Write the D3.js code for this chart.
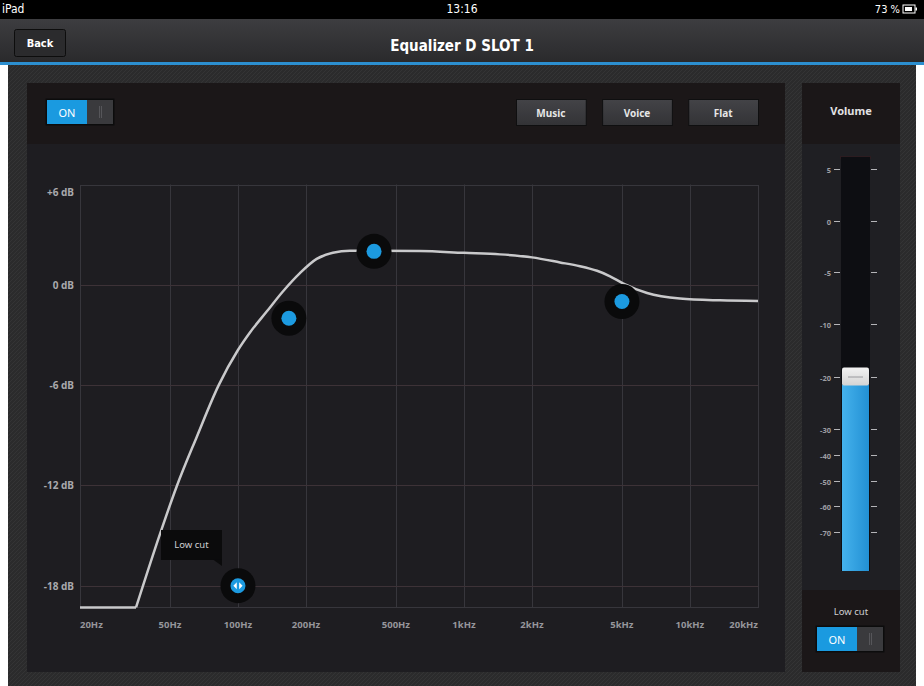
<!DOCTYPE html>
<html lang="en">
<head>
<meta charset="utf-8">
<title>Equalizer D SLOT 1</title>
<script src="https://d3js.org/d3.v7.min.js"></script>
<style>
  body { margin: 0; background: #fff; }
  svg { display: block; }
  text { font-family: "Noto Sans", "Open Sans", sans-serif; font-weight: bold; }
  .narrow { font-family: "Liberation Sans Narrow", "DejaVu Sans Condensed", "Roboto", sans-serif; }
</style>
</head>
<body>
<script>
// response curve (Hz, dB)
var curveFreq = [20, 35.4, 45.2, 53.6, 65.7, 82.2, 100, 113, 134, 158, 188, 223, 263, 313, 400, 638,
                 1000, 1444, 2000, 2660, 3260, 3600, 3880, 4430, 5050, 6460, 9030, 13580, 20000];
var curveGain = [-19.3, -19.3, -14.9, -12.05, -9.1, -6.0, -3.9, -2.85, -1.6, -0.4, 0.7, 1.55, 1.92, 2.03, 2.03, 2.02,
                 1.91, 1.82, 1.64, 1.34, 1.11, 0.97, 0.84, 0.51, 0.09, -0.49, -0.82, -0.93, -0.97];

// draggable band handles
var bandFreq = [100, 168, 400, 5000];
var bandGain = [-18, -2, 2, -1];

var freqTicks = [20, 50, 100, 200, 500, 1000, 2000, 5000, 10000, 20000];
var freqLabels = ["20Hz", "50Hz", "100Hz", "200Hz", "500Hz", "1kHz", "2kHz", "5kHz", "10kHz", "20kHz"];
var gainTicks = [6, 0, -6, -12, -18];
var gainLabels = ["+6 dB", "0 dB", "-6 dB", "-12 dB", "-18 dB"];
var presets = ["Music", "Voice", "Flat"];

var volumeTicks = [5, 0, -5, -10, -20, -30, -40, -50, -60, -70];
var volumeLevel = -20;

var W = 924, H = 686;
var svg = d3.select("body").append("svg")
    .attr("width", W)
    .attr("height", H);

var defs = svg.append("defs");

var tex = defs.append("pattern")
    .attr("id", "tex")
    .attr("width", 4).attr("height", 4)
    .attr("patternUnits", "userSpaceOnUse");
tex.append("rect").attr("width", 4).attr("height", 4).attr("fill", "#2b2b2c");
tex.append("path").attr("d", "M0,4L4,0M-1,1L1,-1M3,5L5,3").attr("stroke", "#343435").attr("stroke-width", 1);

var navGrad = defs.append("linearGradient").attr("id", "navGrad").attr("x1", 0).attr("y1", 0).attr("x2", 0).attr("y2", 1);
navGrad.append("stop").attr("offset", "0%").attr("stop-color", "#3d3d40");
navGrad.append("stop").attr("offset", "100%").attr("stop-color", "#2a2a2c");

var btnGrad = defs.append("linearGradient").attr("id", "btnGrad").attr("x1", 0).attr("y1", 0).attr("x2", 0).attr("y2", 1);
btnGrad.append("stop").attr("offset", "0%").attr("stop-color", "#434347");
btnGrad.append("stop").attr("offset", "100%").attr("stop-color", "#333336");

var blueGrad = defs.append("linearGradient").attr("id", "blueGrad").attr("x1", 0).attr("y1", 0).attr("x2", 1).attr("y2", 0);
blueGrad.append("stop").attr("offset", "0%").attr("stop-color", "#45b2ec");
blueGrad.append("stop").attr("offset", "100%").attr("stop-color", "#2290d4");

var thumbGrad = defs.append("linearGradient").attr("id", "thumbGrad").attr("x1", 0).attr("y1", 0).attr("x2", 0).attr("y2", 1);
thumbGrad.append("stop").attr("offset", "0%").attr("stop-color", "#f2f2f2");
thumbGrad.append("stop").attr("offset", "100%").attr("stop-color", "#d4d4d4");

// background
svg.append("rect").attr("x", 8).attr("y", 64).attr("width", 908).attr("height", H - 64).attr("fill", "url(#tex)");

// status bar
svg.append("rect").attr("x", 0).attr("y", 0).attr("width", W).attr("height", 19).attr("fill", "#000");
svg.append("text").attr("class", "narrow").attr("x", 2).attr("y", 13)
    .attr("fill", "#fff").attr("font-size", 12).style("font-weight", "normal").text("iPad");
svg.append("text").attr("class", "narrow").attr("x", W / 2).attr("y", 13).attr("text-anchor", "middle")
    .attr("fill", "#fff").attr("font-size", 12).style("font-weight", "normal").text("13:16");
svg.append("text").attr("class", "narrow").attr("x", 900).attr("y", 13).attr("text-anchor", "end")
    .attr("fill", "#fff").attr("font-size", 11).style("font-weight", "normal").text("73 %");
svg.append("rect").attr("x", 903).attr("y", 5).attr("width", 12).attr("height", 8).attr("fill", "none").attr("stroke", "#fff");
svg.append("rect").attr("x", 905).attr("y", 7).attr("width", 7).attr("height", 4).attr("fill", "#fff");
svg.append("rect").attr("x", 915.5).attr("y", 7.5).attr("width", 1.5).attr("height", 3).attr("fill", "#fff");

// nav bar
svg.append("rect").attr("x", 0).attr("y", 19).attr("width", W).attr("height", 43).attr("fill", "url(#navGrad)");
svg.append("rect").attr("x", 0).attr("y", 62).attr("width", W).attr("height", 3).attr("fill", "#2c8fd0");
svg.append("rect").attr("x", 14.5).attr("y", 29.5).attr("width", 51).attr("height", 27).attr("rx", 2)
    .attr("fill", "#2b2b2d").attr("stroke", "#0d0d0d");
svg.append("text").attr("class", "narrow").attr("x", 40).attr("y", 47).attr("text-anchor", "middle")
    .attr("fill", "#fff").attr("font-size", 11).text("Back");
svg.append("text").attr("class", "narrow").attr("x", 462).attr("y", 51).attr("text-anchor", "middle")
    .attr("fill", "#fff").attr("font-size", 15).text("Equalizer D SLOT 1");

// main panel
svg.append("rect").attr("x", 27).attr("y", 83).attr("width", 758).attr("height", 589).attr("fill", "#1e1d21");
svg.append("rect").attr("x", 27).attr("y", 83).attr("width", 758).attr("height", 61).attr("fill", "#1b1718");

function toggle(x, y) {
    var g = svg.append("g").attr("transform", "translate(" + x + "," + y + ")");
    g.append("rect").attr("x", -0.5).attr("y", -0.5).attr("width", 69).attr("height", 27).attr("fill", "#0c0c0c");
    g.append("rect").attr("x", 1).attr("y", 1).attr("width", 40).attr("height", 24).attr("fill", "#1a9ae0");
    g.append("rect").attr("x", 41).attr("y", 1).attr("width", 26).attr("height", 24).attr("fill", "#3a3a3d");
    g.append("path").attr("d", "M53.5,7V19M55.5,7V19").attr("stroke", "#56565a").attr("stroke-width", 1);
    g.append("text").attr("x", 21).attr("y", 17.5).attr("text-anchor", "middle")
        .attr("fill", "#fff").attr("font-size", 11).style("font-weight", "normal").text("ON");
}
toggle(46, 99);

var presetX = d3.scaleBand().domain(presets).range([516, 758]).paddingInner(0.19);
var pb = svg.selectAll(".preset").data(presets).enter().append("g").attr("class", "preset");
pb.append("rect")
    .attr("x", function(d) { return presetX(d) + 0.5; })
    .attr("y", 99.5)
    .attr("width", presetX.bandwidth())
    .attr("height", 26)
    .attr("fill", "url(#btnGrad)")
    .attr("stroke", "#0f0f10");
pb.append("text")
    .attr("x", function(d) { return presetX(d) + presetX.bandwidth() / 2; })
    .attr("y", 116.5)
    .attr("text-anchor", "middle")
    .attr("fill", "#e6e6e6")
    .attr("font-size", 10)
    .text(function(d) { return d; });

// EQ plot
var x = d3.scaleLog().domain([20, 20000]).range([80, 758]);
var y = d3.scaleLinear().domain([-18, 6]).range([585.7, 184.5]);
var plotBottom = 607;

var grid = svg.append("g");
grid.selectAll(".vg").data(freqTicks.slice(1, -1)).enter().append("line")
    .attr("x1", function(d) { return Math.round(x(d)) + 0.5; })
    .attr("x2", function(d) { return Math.round(x(d)) + 0.5; })
    .attr("y1", y(6)).attr("y2", plotBottom)
    .attr("stroke", "#37363c");
grid.selectAll(".hg").data(gainTicks.slice(1)).enter().append("line")
    .attr("x1", x(20)).attr("x2", x(20000))
    .attr("y1", function(d) { return Math.round(y(d)) + 0.5; })
    .attr("y2", function(d) { return Math.round(y(d)) + 0.5; })
    .attr("stroke", "#3d3237");
grid.append("rect")
    .attr("x", x(20) + 0.5).attr("y", Math.round(y(6)) + 0.5)
    .attr("width", x(20000) - x(20)).attr("height", plotBottom - Math.round(y(6)))
    .attr("fill", "none").attr("stroke", "#37363c");

svg.selectAll(".ylab").data(gainTicks).enter().append("text")
    .attr("x", 74)
    .attr("y", function(d, i) { return i === 0 ? y(d) + 11 : y(d) + 4; })
    .attr("text-anchor", "end")
    .attr("fill", "#a9a9ad")
    .attr("font-size", 10)
    .text(function(d, i) { return gainLabels[i]; });

svg.selectAll(".xlab").data(freqTicks).enter().append("text")
    .attr("x", function(d) { return x(d); })
    .attr("y", 628)
    .attr("text-anchor", function(d, i) { return i === 0 ? "start" : (i === freqTicks.length - 1 ? "end" : "middle"); })
    .attr("fill", "#96969b")
    .attr("font-size", 9.5)
    .text(function(d, i) { return freqLabels[i]; });

// response curve: flat floor, then the smooth part
var pts = curveFreq.map(function(f, i) { return [x(f), y(curveGain[i])]; });
svg.append("path")
    .attr("d", d3.line()(pts.slice(0, 2)))
    .attr("fill", "none").attr("stroke", "#c9c9cb").attr("stroke-width", 2.5);
svg.append("path")
    .attr("d", d3.line().curve(d3.curveMonotoneX)(pts.slice(1)))
    .attr("fill", "none").attr("stroke", "#c9c9cb").attr("stroke-width", 2.5);

// tooltip for the low cut handle
var tip = svg.append("g");
tip.append("rect").attr("x", 161).attr("y", 530).attr("width", 61).attr("height", 30).attr("fill", "#0b0b0c");
tip.append("path").attr("d", "M213,559.5L222,559.5L222,566Z").attr("fill", "#0b0b0c");
tip.append("text").attr("x", 191.5).attr("y", 548).attr("text-anchor", "middle")
    .attr("fill", "#cfcfd2").attr("font-size", 9.5).style("font-weight", "normal").text("Low cut");

var handles = svg.selectAll(".band").data(bandFreq).enter().append("g")
    .attr("class", "band")
    .attr("transform", function(d, i) { return "translate(" + x(d) + "," + y(bandGain[i]) + ")"; });
handles.append("circle").attr("r", 17.5).attr("fill", "#0a0a0b");
handles.append("circle").attr("r", 7.5).attr("fill", "#1c9ae0");
handles.filter(function(d, i) { return i === 0; }).append("path")
    .attr("d", "M-1.2,-3.5L-4.6,0L-1.2,3.5ZM1.2,-3.5L4.6,0L1.2,3.5Z")
    .attr("fill", "#fff");

// volume panel
svg.append("rect").attr("x", 802).attr("y", 83).attr("width", 98).attr("height", 589).attr("fill", "#1f1f23");
svg.append("rect").attr("x", 802).attr("y", 83).attr("width", 98).attr("height", 61).attr("fill", "#1b1718");
svg.append("rect").attr("x", 802).attr("y", 590).attr("width", 98).attr("height", 82).attr("fill", "#1b1718");
svg.append("text").attr("x", 851).attr("y", 115).attr("text-anchor", "middle")
    .attr("fill", "#e2e2e4").attr("font-size", 11).text("Volume");

var v = d3.scaleLinear().domain([5, -10, -30, -70]).range([169, 324, 429, 532]);
var trackTop = 157, trackBottom = 571;

svg.append("rect").attr("x", 840).attr("y", trackTop - 1).attr("width", 31).attr("height", 3).attr("fill", "#2c1c20");
svg.append("rect").attr("x", 841).attr("y", trackTop).attr("width", 29).attr("height", trackBottom - trackTop).attr("fill", "#0d0e12");
svg.append("rect").attr("x", 842).attr("y", v(volumeLevel) + 8).attr("width", 27).attr("height", trackBottom - v(volumeLevel) - 8)
    .attr("fill", "url(#blueGrad)");

var vt = svg.selectAll(".vtick").data(volumeTicks).enter().append("g")
    .attr("class", "vtick")
    .attr("transform", function(d) { return "translate(0," + (Math.round(v(d)) + 0.5) + ")"; });
vt.append("line").attr("x1", 834).attr("x2", 840).attr("stroke", "#b5b5b8");
vt.append("line").attr("x1", 871).attr("x2", 877).attr("stroke", "#b5b5b8");
vt.append("text").attr("x", 831).attr("y", 3).attr("text-anchor", "end")
    .attr("fill", "#9d9da2").attr("font-size", 7.5)
    .text(function(d) { return d; });

svg.append("rect").attr("x", 842).attr("y", v(volumeLevel) - 9).attr("width", 27).attr("height", 18).attr("rx", 2)
    .attr("fill", "url(#thumbGrad)");
svg.append("line").attr("x1", 848).attr("x2", 863).attr("y1", v(volumeLevel) + 0.5).attr("y2", v(volumeLevel) + 0.5)
    .attr("stroke", "#9a9a9e");

svg.append("text").attr("x", 851).attr("y", 615).attr("text-anchor", "middle")
    .attr("fill", "#cfcfd2").attr("font-size", 9.5).style("font-weight", "normal").text("Low cut");
toggle(816, 626);
</script>
</body>
</html>
